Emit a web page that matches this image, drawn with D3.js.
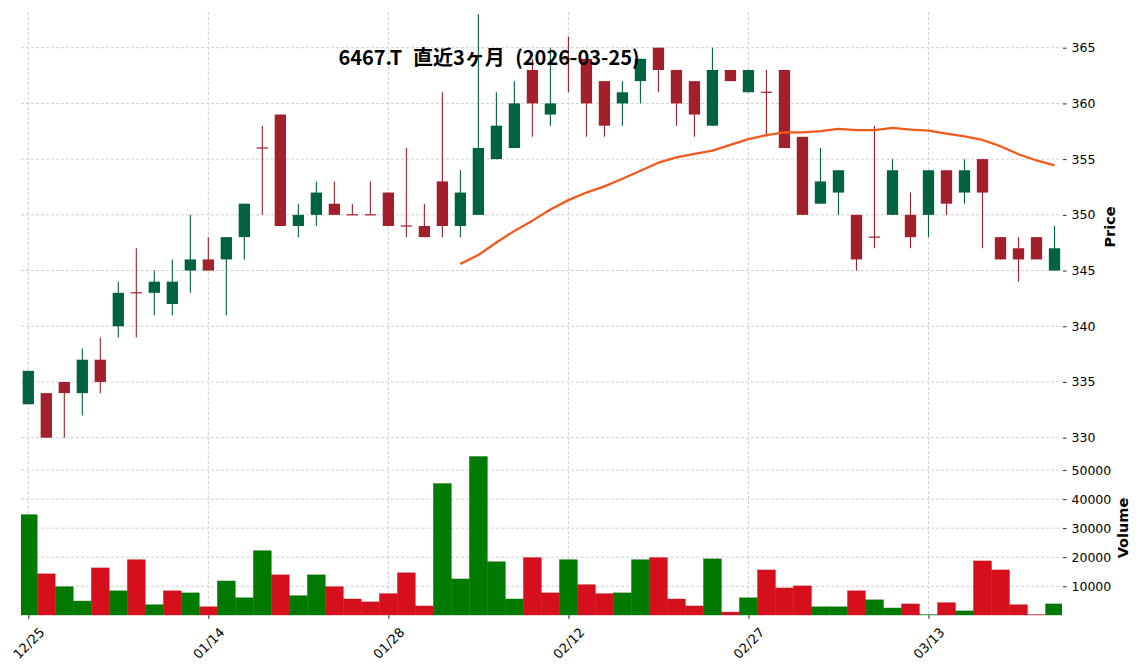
<!DOCTYPE html>
<html><head><meta charset="utf-8">
<script src="https://cdn.jsdelivr.net/npm/d3@7"></script>
<style>body{margin:0;background:#fff} svg{display:block}</style>
</head><body>
<svg id="chart" width="1144" height="670"></svg>
<script>
// ---- data ----
const dates = ["2025-12-25","2025-12-26","2025-12-29","2025-12-30","2026-01-05","2026-01-06","2026-01-07","2026-01-08","2026-01-09","2026-01-13",
"2026-01-14","2026-01-15","2026-01-16","2026-01-19","2026-01-20","2026-01-21","2026-01-22","2026-01-23","2026-01-26","2026-01-27",
"2026-01-28","2026-01-29","2026-01-30","2026-02-02","2026-02-03","2026-02-04","2026-02-05","2026-02-06","2026-02-09","2026-02-10",
"2026-02-12","2026-02-13","2026-02-16","2026-02-17","2026-02-18","2026-02-19","2026-02-20","2026-02-24","2026-02-25","2026-02-26",
"2026-02-27","2026-03-02","2026-03-03","2026-03-04","2026-03-05","2026-03-06","2026-03-09","2026-03-10","2026-03-11","2026-03-12",
"2026-03-13","2026-03-16","2026-03-17","2026-03-18","2026-03-19","2026-03-23","2026-03-24","2026-03-25"];
const opens  = [333,334,335,334,337,340,343,343,342,345, 346,346,348,356,359,349,350,351,350,350, 352,349,349,353,349,350,355,356,363,359,
                364,364,362,360,362,365,363,362,358,363, 361,361,363,357,351,352,350,348,350,350, 350,354,352,355,348,347,348,345];
const highs  = [336,334,335,338,339,344,347,345,346,350, 348,348,351,358,359,351,353,353,351,353, 352,356,351,361,354,368,361,362,364,365,
                366,364,362,362,364,365,363,362,365,363, 363,363,363,357,356,354,350,358,355,352, 354,354,355,355,348,348,348,349];
const lows   = [333,330,330,332,334,339,339,341,341,343, 345,341,346,350,349,348,349,350,350,350, 349,348,348,348,348,350,355,356,357,358,
                361,357,357,358,360,361,358,357,358,362, 361,357,356,350,351,350,345,347,350,347, 348,350,351,347,346,344,346,345];
const closes = [336,330,334,337,335,343,343,344,344,346, 345,348,351,356,349,350,352,350,350,350, 349,349,348,349,352,356,358,360,360,360,
                364,360,358,361,364,363,360,359,363,362, 363,361,356,350,353,354,346,348,354,348, 354,351,354,352,346,346,346,347];
const volumes = [34600,14250,9800,4900,16300,8400,19100,3600,8400,7700, 2900,11800,6000,22200,13900,6700,13900,9800,5600,4600,
                 7400,14600,3200,45300,12500,54600,18400,5600,19800,7700, 19100,10500,7400,7700,19100,19800,5600,3200,19400,1100,
                 6000,15600,9400,10100,2900,2900,8400,5300,2500,3900, 200,4300,1500,18700,15600,3600,200,3900];
// 25-day moving average of close, starting at the 25th session
const ma25 = [345.60,346.40,347.52,348.56,349.48,350.48,351.32,352.00,352.56,353.24,353.96,354.68,355.16,355.48,355.76,356.28,356.80,
              357.16,357.40,357.40,357.52,357.72,357.60,357.60,357.80,357.64,357.56,357.28,357.04,356.72,356.16,355.44,354.88,354.44];
const maStart = 24;
const priceTicks = [330,335,340,345,350,355,360,365];
const volumeTicks = [10000,20000,30000,40000,50000];
const dateTicks = ["2025-12-25","2026-01-14","2026-01-28","2026-02-12","2026-02-27","2026-03-13"];
const dateTickLabels = ["12/25","01/14","01/28","02/12","02/27","03/13"];
const titleText = "6467.T 直近3ヶ月 (2026-03-25)";

// ---- layout / style ----
const plotL = 21, plotR = 1062;
const priceTop = 12, priceBot = 440;
const volTop = 441, volBot = 615.3;
const C = {up:"#006340", down:"#a1202b", vup:"#007a00", vdown:"#d5101c", ma:"#f25a1d", grid:"#c4c4c4"};

const svg = d3.select("#chart");
const x = d3.scalePoint().domain(dates).range([28.3, 1054.5]);
const step = x.step();
const yP = d3.scaleLinear().domain([330, 365]).range([437.7, 47.7]);
const yV = d3.scaleLinear().domain([0, 60000]).range([volBot, volTop]);

const candles = dates.map((d,i)=>({d, o:opens[i], h:highs[i], l:lows[i], c:closes[i], v:volumes[i],
  vup: i===0 ? closes[0] >= opens[0] : closes[i] > closes[i-1]}));

// clip paths
const defs = svg.append("defs");
defs.append("clipPath").attr("id","cp").append("rect").attr("x",plotL).attr("y",priceTop).attr("width",plotR-plotL).attr("height",priceBot-priceTop);
defs.append("clipPath").attr("id","cv").append("rect").attr("x",plotL).attr("y",volTop).attr("width",plotR-plotL).attr("height",volBot-volTop);

// grid
const grid = svg.append("g").attr("stroke",C.grid).attr("stroke-width",0.8).attr("stroke-dasharray","3,2").attr("fill","none");
grid.selectAll(".hp").data(priceTicks).join("line").attr("x1",plotL).attr("x2",plotR).attr("y1",d=>yP(d)).attr("y2",d=>yP(d));
grid.selectAll(".hv").data(volumeTicks).join("line").attr("class","hv").attr("x1",plotL).attr("x2",plotR).attr("y1",d=>yV(d)).attr("y2",d=>yV(d));
grid.selectAll(".vp").data(dateTicks).join("line").attr("class","vp").attr("x1",d=>x(d)).attr("x2",d=>x(d)).attr("y1",priceTop).attr("y2",priceBot);
grid.selectAll(".vv").data(dateTicks).join("line").attr("class","vv").attr("x1",d=>x(d)).attr("x2",d=>x(d)).attr("y1",volTop).attr("y2",volBot);

// volume bars
const vb = svg.append("g").attr("clip-path","url(#cv)");
vb.selectAll("rect").data(candles).join("rect")
  .attr("x", d=>x(d.d)-step*0.49).attr("width", step*0.98)
  .attr("y", d=>yV(d.v)).attr("height", d=>Math.max(0, volBot - yV(d.v)))
  .attr("fill", d=>d.vup?C.vup:C.vdown)
  .attr("stroke", d=>d.vup?"#006a00":"#b80e18").attr("stroke-width",0.5);

// candles
const cg = svg.append("g").attr("clip-path","url(#cp)");
const bw = 11.3;
cg.selectAll("line.w").data(candles).join("line").attr("class","w")
  .attr("x1",d=>x(d.d)).attr("x2",d=>x(d.d)).attr("y1",d=>yP(d.h)).attr("y2",d=>yP(d.l))
  .attr("stroke",d=>d.c>d.o?C.up:C.down).attr("stroke-width",1.1);
cg.selectAll("rect.b").data(candles).join("rect").attr("class","b")
  .attr("x",d=>x(d.d)-bw/2).attr("width",bw)
  .attr("y",d=>d.c===d.o ? yP(d.c)-0.6 : yP(Math.max(d.o,d.c)))
  .attr("height",d=>d.c===d.o ? 1.2 : Math.abs(yP(d.o)-yP(d.c)))
  .attr("fill",d=>d.c>d.o?C.up:C.down);

// moving average
const line = d3.line().x((d,i)=>x(dates[maStart+i])).y(d=>yP(d)).curve(d3.curveLinear);
svg.append("path").datum(ma25).attr("d",line).attr("fill","none").attr("stroke",C.ma).attr("stroke-width",2.3).attr("stroke-linejoin","round");

// axes
const tickFont = "'DejaVu Sans', sans-serif";
function styleAxis(g, size){
  g.select(".domain").remove();
  g.selectAll(".tick line").attr("stroke","#222").attr("stroke-width",1);
  g.selectAll(".tick text").attr("fill","#000").style("font-family",tickFont).style("font-size",size);
}
svg.append("g").attr("transform",`translate(${plotR+1},0)`)
  .call(d3.axisRight(yP).tickValues(priceTicks).tickSize(3.5).tickPadding(5).tickFormat(d3.format("d")))
  .call(styleAxis, "12.5px");
svg.append("g").attr("transform",`translate(${plotR+1},0)`)
  .call(d3.axisRight(yV).tickValues(volumeTicks).tickSize(3.5).tickPadding(5).tickFormat(d3.format("d")))
  .call(styleAxis, "12.5px");
const xa = svg.append("g").attr("transform",`translate(0,${volBot})`)
  .call(d3.axisBottom(x).tickValues(dateTicks).tickSize(3.5).tickFormat((d,i)=>dateTickLabels[i]))
  .call(styleAxis, "13px");
xa.selectAll(".tick text").attr("y",null).attr("dy",null)
  .attr("text-anchor","middle").attr("dominant-baseline","central")
  .attr("transform","translate(0,28) rotate(-45)");

// axis labels
const labFont = "'DejaVu Sans', sans-serif";
svg.append("text").attr("transform","translate(1110,227) rotate(-90)").attr("text-anchor","middle").attr("dominant-baseline","central")
  .style("font-family",labFont).style("font-weight","bold").style("font-size","14.5px").text("Price");
svg.append("text").attr("transform","translate(1123,528) rotate(-90)").attr("text-anchor","middle").attr("dominant-baseline","central")
  .style("font-family",labFont).style("font-weight","bold").style("font-size","14.5px").text("Volume");

// title
svg.append("text").attr("x",489).attr("y",64.5).attr("text-anchor","middle")
  .style("font-family","'Noto Sans CJK JP', sans-serif").style("font-weight","bold").style("font-size","20px")
  .style("word-spacing","6px").text(titleText);
</script>
</body></html>
